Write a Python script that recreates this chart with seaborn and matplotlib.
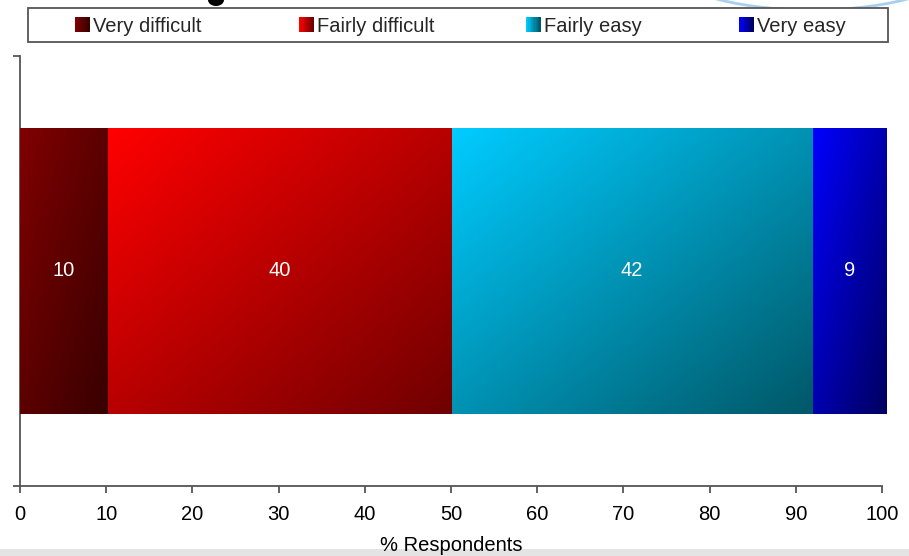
import numpy as np
import pandas as pd
import matplotlib
matplotlib.use("Agg")
import matplotlib.pyplot as plt
import seaborn as sns
from matplotlib.colors import to_rgb
from matplotlib.patches import Patch, Ellipse, Rectangle
from matplotlib.legend_handler import HandlerBase

# data
categories = ["Very difficult", "Fairly difficult", "Fairly easy", "Very easy"]
values = [10.2, 39.8, 41.9, 8.6]
labels = ["10", "40", "42", "9"]
light = ["#800000", "#ff0000", "#00ccff", "#0000ff"]
dark = ["#380000", "#700000", "#005868", "#000060"]
xticks = list(range(0, 101, 10))

sns.set_theme(style="white")
plt.rcParams["font.family"] = ["Liberation Sans", "DejaVu Sans"]

df = pd.DataFrame({"category": categories, "value": values})
df["end"] = df["value"].cumsum()
df["start"] = df["end"] - df["value"]
df["row"] = ""


def gradient(c1, c2, n=80):
    # diagonal: top-left light -> bottom-right dark
    xx, yy = np.meshgrid(np.linspace(0, 1, n), np.linspace(0, 1, n))
    t = ((xx + yy) / 2)[..., None]
    return np.array(to_rgb(c1)) * (1 - t) + np.array(to_rgb(c2)) * t


class GradientHandler(HandlerBase):
    def __init__(self, c1, c2):
        super().__init__()
        self.c1, self.c2 = c1, c2

    def create_artists(self, legend, orig_handle, xdescent, ydescent,
                       width, height, fontsize, trans):
        n = 12
        arts = []
        for k in range(n):
            t = k / (n - 1)
            col = np.array(to_rgb(self.c1)) * (1 - t) + np.array(to_rgb(self.c2)) * t
            r = Rectangle((-xdescent + width * k / n, -ydescent), width / n + 0.3,
                          height, facecolor=col, edgecolor="none", transform=trans)
            arts.append(r)
        return arts


fig = plt.figure(figsize=(9.09, 5.56), dpi=100)
fig.patch.set_facecolor("white")
ax = fig.add_axes([20 / 909, 1 - 486 / 556, 862 / 909, 430 / 556])

# stacked bar: cumulative totals, longest first
for i in reversed(range(len(df))):
    sns.barplot(data=df.iloc[[i]], x="end", y="row", orient="h",
                color=light[i], width=0.663, saturation=1, ax=ax)
    p = ax.patches[-1]
    p.set_clip_on(False)
    im = ax.imshow(gradient(light[i], dark[i]), aspect="auto", origin="upper",
                   extent=(df["start"][i], df["end"][i], p.get_y() + p.get_height(), p.get_y()),
                   zorder=3, interpolation="bilinear")
    im.set_clip_on(False)

for i in range(len(df)):
    ax.text((df["start"][i] + df["end"][i]) / 2, 0, labels[i], color="white",
            ha="center", va="center", fontsize=14.5, zorder=4)

ax.set_xlim(0, 100)
ax.set_ylim(0.5, -0.5)
ax.set_xticks(xticks)
ax.set_xticklabels([str(t) for t in xticks], fontsize=14.5, color="black")
ax.set_yticks([-0.5, 0.5])
ax.set_yticklabels([])
ax.tick_params(axis="both", direction="out", length=5, width=1.3, color="#555555",
               bottom=True, left=True)
ax.tick_params(axis="x", pad=9)
ax.set_ylabel("")
ax.set_xlabel("% Respondents", fontsize=14.5, color="black", labelpad=8)
for s in ["top", "right"]:
    ax.spines[s].set_visible(False)
for s in ["left", "bottom"]:
    ax.spines[s].set_color("#555555")
    ax.spines[s].set_linewidth(1.3)

# slide leftovers: grey strip at bottom, callout outline at top
fig.add_artist(Rectangle((0, 0), 1, 7 / 556, transform=fig.transFigure,
                         facecolor="#e4e4e4", edgecolor="none", zorder=-1))
fig.add_artist(Ellipse((812 / 909, 1 + 38 / 556), 300 / 909, 96 / 556,
                       transform=fig.transFigure, fill=False,
                       edgecolor="#a8cff0", lw=2, zorder=1))
fig.add_artist(Ellipse((216 / 909, 1), 16 / 909, 12 / 556,
                       transform=fig.transFigure, facecolor="black",
                       edgecolor="none", zorder=1))

# legend box with four evenly spread entries
fig.add_artist(Rectangle((28 / 909, 1 - 42 / 556), 860 / 909, 34 / 556,
                         transform=fig.transFigure, facecolor="white",
                         edgecolor="#555555", lw=1.3, zorder=5))
item_x = [75, 299, 526, 739]
for i, c in enumerate(categories):
    h = Patch(label=c)
    leg = fig.legend(handles=[h], handler_map={h: GradientHandler(light[i], dark[i])},
                     loc="center left", bbox_to_anchor=(item_x[i] / 909, 1 - 26 / 556),
                     frameon=False, fontsize=14.5, handlelength=0.72,
                     handleheight=0.72, handletextpad=0.16, borderaxespad=0,
                     borderpad=0)
    leg.set_zorder(6)

fig.savefig("out.png", dpi=100)
